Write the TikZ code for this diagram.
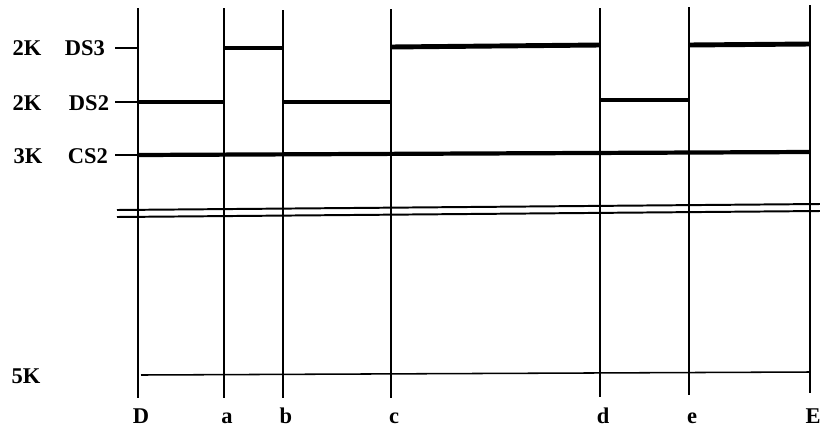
\documentclass[tikz,border=0pt]{standalone}
\usepackage{fontspec}
\setmainfont{Liberation Serif}
\begin{document}
\begin{tikzpicture}[x=0.025cm,y=-0.025cm,line cap=butt,line join=miter,
  lab/.style={font=\fontsize{16}{18}\selectfont\bfseries,inner sep=0pt},
  grid line/.style={line width=1.4pt},
  level line/.style={line width=3.5pt}]
  \useasboundingbox (0,0) rectangle (820,428);
  % time marks
  \foreach \x/\top/\bot/\n in {138/8/398/D,224/8/398/a,283/10/398/b,391/9/398/c,
      600/8/397/d,689/7/395/e,810/5/393/E}{
    \coordinate (t\n) at (\x,\top);
    \coordinate (b\n) at (\x,\bot);
    \draw[grid line] (t\n) -- (b\n);
    \node[lab,anchor=base] (l\n) at (\x+3,423) {\n};
  }
  % left ticks
  \draw[grid line] (115,48) -- (138,48);
  \draw[grid line] (115,102) -- (138,102);
  \draw[grid line] (115,155) -- (138,155);
  % DS3
  \draw[level line] (224,48) -- (283,48);
  \draw[level line] (391,47) -- (600,45);
  \draw[level line] (689,45) -- (810,44);
  % DS2
  \draw[level line] (138,102) -- (224,102);
  \draw[level line] (283,102) -- (391,102);
  \draw[level line] (600,100) -- (689,100);
  % CS2
  \draw[line width=3pt] (138,155) -- (810,152);
  % break
  \draw[grid line] (117,210) -- (820,204);
  \draw[grid line] (117,217) -- (820,211);
  % 5K
  \draw[line width=1.1pt] (141,375) -- (810,372);
  \node[lab] (k1) at (27,48) {2K};
  \node[lab] (s1) at (85,48) {DS3};
  \node[lab] (k2) at (27,103) {2K};
  \node[lab] (s2) at (89,103) {DS2};
  \node[lab] (k3) at (28,156) {3K};
  \node[lab] (s3) at (88,156) {CS2};
  \node[lab] (k4) at (26,376) {5K};
\end{tikzpicture}
\end{document}
